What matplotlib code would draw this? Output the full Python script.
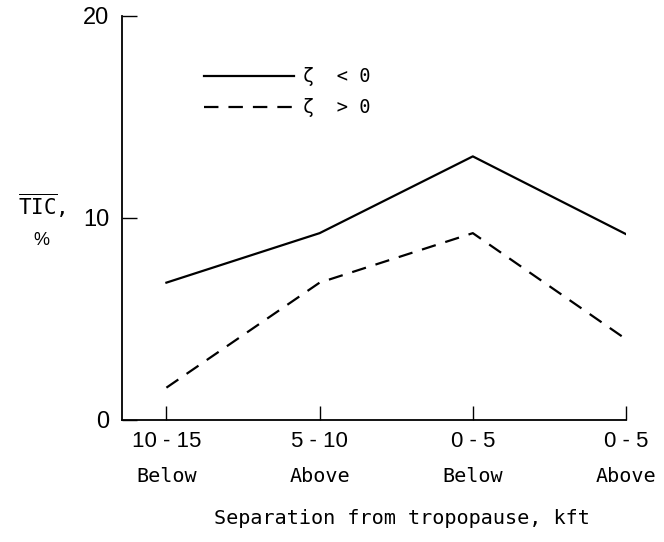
import matplotlib
matplotlib.use("Agg")
import matplotlib.pyplot as plt
import matplotlib.transforms as mtransforms
import numpy as np

# TIC by separation from the tropopause
ranges = ["10 - 15", "5 - 10", "0 - 5", "0 - 5"]
sides = ["Below", "Above", "Below", "Above"]
tic_neg = [6.8, 9.25, 13.05, 9.2]   # zeta < 0
tic_pos = [1.6, 6.8, 9.25, 4.0]     # zeta > 0
yticks = [0, 10, 20]

mono = "DejaVu Sans Mono"
narrow = ["Liberation Sans Narrow", "Liberation Sans"]
plt.rcParams["mathtext.fontset"] = "dejavusans"

fig = plt.figure(figsize=(6.64, 5.42), dpi=100)
ax = fig.add_axes([0.1837, 0.2251, 0.9428 - 0.1837, 0.9705 - 0.2251])

x = np.arange(len(ranges))
ax.plot(x, tic_neg, color="black", lw=1.6, label="ζ  < 0")
ax.plot(x, tic_pos, color="black", lw=1.6, dashes=(6.5, 4.5),
        label="ζ  > 0", clip_on=False)

ax.set_xlim(-0.29, 3)
ax.set_ylim(0, 20)
ax.set_yticks(yticks)
ax.set_yticklabels([str(v) for v in yticks], family=narrow, fontsize=17)
ax.set_xticks(x)
ax.set_xticklabels(ranges, family=narrow, fontsize=16)

# second row of category labels under the ranges
trans = mtransforms.blended_transform_factory(ax.transData, ax.transAxes)
for xi, s in zip(x, sides):
    ax.text(xi, -0.141, s, transform=trans, family=mono, fontsize=14.5,
            ha="center", va="center")

ax.spines["top"].set_visible(False)
ax.spines["right"].set_visible(False)
for s in ("left", "bottom"):
    ax.spines[s].set_linewidth(1.3)
ax.tick_params(axis="y", direction="in", length=11, width=1.0, pad=9)
ax.tick_params(axis="x", direction="in", length=10, width=1.0, pad=8)

ax.legend(loc="upper left", bbox_to_anchor=(0.13, 0.915), frameon=False,
          handlelength=4.8, handletextpad=0.45, labelspacing=0.65,
          prop={"family": mono, "size": 13.5})

fig.text(0.063, 0.62, r"$\overline{\mathtt{TIC}}$,", family=mono, fontsize=15,
         ha="center", va="center")
fig.text(0.063, 0.557, "%", family=narrow, fontsize=13,
         ha="center", va="center")
fig.text(0.605, 0.044, "Separation from tropopause, kft", family=mono,
         fontsize=14.5, ha="center", va="center")

fig.savefig("out.png", dpi=100)
